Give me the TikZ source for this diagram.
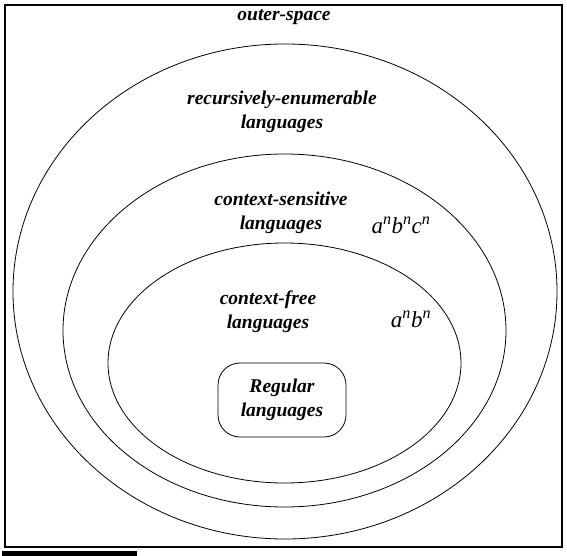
\documentclass[tikz,border=0pt]{standalone}
\usepackage{fontspec}
\setmainfont{Liberation Serif}
\usetikzlibrary{shapes.geometric,positioning}

\begin{document}
\begin{tikzpicture}[
    x=1pt, y=-1pt,
    langset/.style={draw, ellipse, line width=0.8pt, inner sep=0pt},
    langtext/.style={align=center, font=\fontsize{19.5}{24}\selectfont\bfseries\itshape},
    example/.style={font=\fontsize{23}{26}\selectfont\itshape, inner sep=0pt}
]
\useasboundingbox (0,0) rectangle (567,556);

\node[draw, line width=1.4pt, minimum width=557pt, minimum height=542pt, inner sep=0pt] (space) at (283.5,276) {};
\fill (2,551) rectangle (137,556);

\node[langset, minimum width=544pt, minimum height=495pt] (re) at (285,291.5) {};
\node[langset, minimum width=443pt, minimum height=353pt] (cs) at (284.5,330.5) {};
\node[langset, minimum width=353pt, minimum height=240pt] (cf) at (284.5,363) {};
\node[draw, rounded corners=22pt, line width=0.8pt, minimum width=128pt, minimum height=74pt, langtext] (reg) at (282,400) {Regular\\languages};

\node[langtext] (spacetext) at (284,17) {outer-space};
\node[langtext] (retext) at (282,112) {recursively-enumerable\\languages};
\node[langtext] (cstext) at (281,213) {context-sensitive\\languages};
\node[langtext] (cftext) at (268,312) {context-free\\languages};

\node[example] (anbncn) at (401,225) {a\textsuperscript{n}b\textsuperscript{n}c\textsuperscript{n}};
\node[example] (anbn) at (411,319) {a\textsuperscript{n}b\textsuperscript{n}};
\end{tikzpicture}
\end{document}
